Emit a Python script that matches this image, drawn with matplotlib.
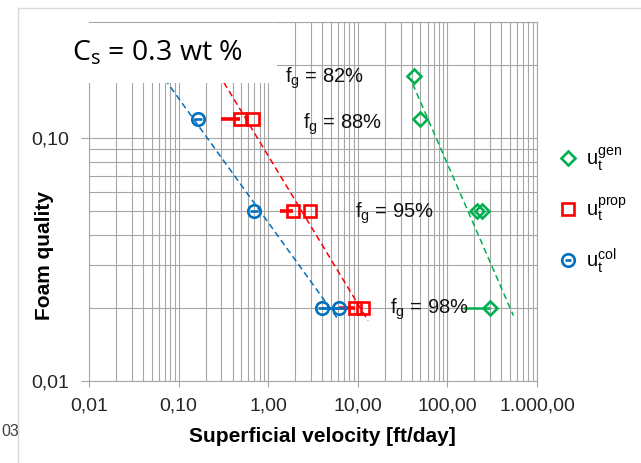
import numpy as np
import matplotlib
matplotlib.use("Agg")
import matplotlib.pyplot as plt
from matplotlib.lines import Line2D
from matplotlib.patches import Rectangle
from matplotlib.legend_handler import HandlerTuple
from matplotlib.ticker import FixedLocator, FixedFormatter, NullFormatter, LogLocator

# transition velocities [ft/day] at each foam quality
gen_x = [42, 49, 215, 245, 300]
gen_y = [0.18, 0.12, 0.05, 0.05, 0.02]
gen_xlo = [42, 49, 215, 245, 150]          # left end of the horizontal bar

prop_x = [0.49, 0.685, 1.91, 2.92, 9.3, 11.5]
prop_y = [0.12, 0.12, 0.05, 0.05, 0.02, 0.02]
prop_xlo = [0.297, 0.685, 1.36, 2.92, 6.2, 11.5]

col_x = [0.165, 0.69, 3.98, 6.2]
col_y = [0.12, 0.05, 0.02, 0.02]
col_xlo = [0.165, 0.69, 3.98, 3.98]

# x span of each power-law trendline
gen_trend = [41, 545]
prop_trend = [0.32, 13.0]
col_trend = [0.07, 6.0]

fg_text = ["82%", "88%", "95%", "98%"]

xticks = [0.01, 0.1, 1, 10, 100, 1000]
xtick_labels = ["0,01", "0,10", "1,00", "10,00", "100,00", "1.000,00"]
yticks = [0.01, 0.1]
ytick_labels = ["0,01", "0,10"]

GREEN = "#00b050"
RED = "#ff0000"
BLUE = "#0070c0"
GRID = "#a6a6a6"

plt.rcParams["font.family"] = ["Liberation Sans", "DejaVu Sans"]

W, H = 641, 463
fig = plt.figure(figsize=(W / 100, H / 100), dpi=100)
ax = fig.add_axes([89 / W, 1 - 381 / H, 448 / W, 359 / H])

ax.set_xscale("log")
ax.set_yscale("log")
ax.set_xlim(0.01, 1000)
ax.set_ylim(0.01, 0.3)

ax.xaxis.set_major_locator(FixedLocator(xticks))
ax.xaxis.set_major_formatter(FixedFormatter(xtick_labels))
ax.yaxis.set_major_locator(FixedLocator(yticks))
ax.yaxis.set_major_formatter(FixedFormatter(ytick_labels))
ax.xaxis.set_minor_locator(LogLocator(subs=range(2, 10), numticks=20))
ax.yaxis.set_minor_locator(LogLocator(subs=range(2, 10), numticks=20))
ax.xaxis.set_minor_formatter(NullFormatter())
ax.yaxis.set_minor_formatter(NullFormatter())

ax.grid(True, which="both", color=GRID, lw=0.8)
ax.set_axisbelow(True)
for s in ax.spines.values():
    s.set_color(GRID)
    s.set_linewidth(0.8)
ax.tick_params(which="minor", length=0)
ax.tick_params(axis="x", which="major", length=4, color=GRID, pad=8,
               labelsize=14, labelcolor="#262626")
ax.tick_params(axis="y", which="major", length=6, color=GRID, pad=8,
               labelsize=14, labelcolor="#262626")


def trend(xs, ys, span, color):
    coef = np.polyfit(np.log10(xs), np.log10(ys), 1)
    xx = np.logspace(np.log10(span[0]), np.log10(span[1]), 60)
    yy = 10 ** np.polyval(coef, np.log10(xx))
    ax.plot(xx, yy, color=color, lw=1.1, ls=(0, (4, 2.5)), zorder=2)


trend(gen_x, gen_y, gen_trend, GREEN)
trend(prop_x, prop_y, prop_trend, RED)
trend(col_x, col_y, col_trend, BLUE)

# horizontal bars
ax.hlines(gen_y, gen_xlo, gen_x, color=GREEN, lw=1.8, zorder=3)
ax.hlines(prop_y, prop_xlo, prop_x, color=RED, lw=2.6, zorder=3)
ax.hlines(col_y, col_xlo, col_x, color=BLUE, lw=1.8, zorder=3)

ax.plot(gen_x, gen_y, ls="none", marker="D", ms=7.5, mfc="none", mec=GREEN, mew=1.9, zorder=4)
ax.plot(prop_x, prop_y, ls="none", marker="s", ms=9, mfc="none", mec=RED, mew=1.9, zorder=4)
ax.plot(col_x, col_y, ls="none", marker="o", ms=9, mfc="none", mec=BLUE, mew=1.9, zorder=4)
ax.plot(col_x, col_y, ls="none", marker="_", ms=6, mec=BLUE, mew=1.9, zorder=4)

# f_g annotations
fg_pos = [(1.54, 0.176), (2.44, 0.114), (9.3, 0.049), (22.9, 0.0197)]
for t, (px, py) in zip(fg_text, fg_pos):
    ax.text(px, py, r"f$_{\mathregular{g}}$ = " + t, fontsize=14.5, ha="left", va="center",
            color="#111111", zorder=5)

# legend
h_gen = Line2D([], [], ls="none", marker="D", ms=7.5, mfc="none", mec=GREEN, mew=1.9)
h_prop = Line2D([], [], ls="none", marker="s", ms=9, mfc="none", mec=RED, mew=1.9)
h_col = (Line2D([], [], ls="none", marker="o", ms=9, mfc="none", mec=BLUE, mew=1.9),
         Line2D([], [], ls="none", marker="_", ms=5, mec=BLUE, mew=1.9))
ax.legend([h_gen, h_prop, h_col],
          [r"$\mathregular{u_t^{gen}}$", r"$\mathregular{u_t^{prop}}$", r"$\mathregular{u_t^{col}}$"],
          handler_map={tuple: HandlerTuple(ndivide=1)},
          loc="upper left", bbox_to_anchor=(540 / W, 1 - 127 / H),
          bbox_transform=fig.transFigure, frameon=False, fontsize=14.5,
          handlelength=1.0, handletextpad=0.4, labelspacing=1.15)

# white box holding the concentration note
fig.add_artist(Rectangle((86 / W, 1 - 83 / H), (277 - 86) / W, 60 / H,
                         transform=fig.transFigure, facecolor="white",
                         edgecolor="none", zorder=5))
fig.text(72 / W, 1 - 53 / H, r"C$_{\mathregular{s}}$ = 0.3 wt %", fontsize=20.5,
         family=["Open Sans", "DejaVu Sans"], va="center", ha="left", zorder=6)

fig.text(322 / W, 1 - 437 / H, "Superficial velocity [ft/day]", fontsize=15,
         fontweight="bold", ha="center", va="center")
fig.text(44 / W, 1 - 256 / H, "Foam quality", fontsize=15, fontweight="bold",
         rotation=90, ha="center", va="center")

# chart area frame and a stray label from the slide at the left edge
fig.add_artist(Rectangle((18 / W, -0.1), 1.2, 1.1 - 8 / H, transform=fig.transFigure,
                         fill=False, edgecolor="#d9d9d9", lw=1))
fig.text(1 / W, 1 - 431 / H, "03", fontsize=11.5, color="#404040", va="center", ha="left")

fig.savefig("out.png", dpi=100)
